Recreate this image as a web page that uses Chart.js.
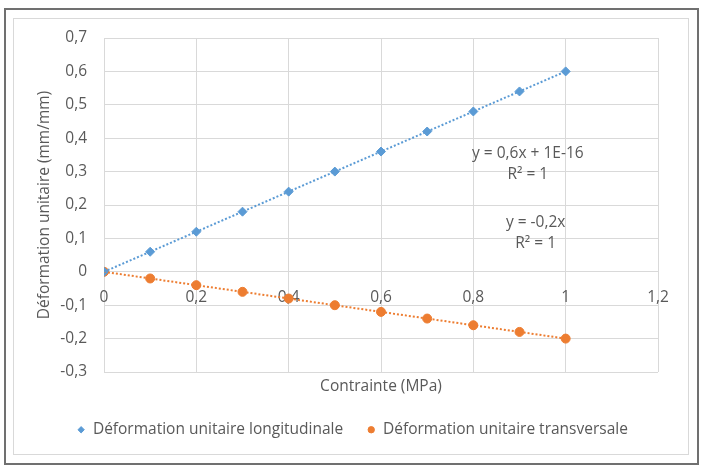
<!DOCTYPE html>
<html>
<head>
<meta charset="utf-8">
<script src="https://cdn.jsdelivr.net/npm/chart.js@4.4.0/dist/chart.umd.min.js"></script>
<style>
  body { margin: 0; background: #fff; }
  #wrap { position: relative; width: 705px; height: 468px; }
  canvas { position: absolute; left: 0; top: 0; }
  .frame { position: absolute; box-sizing: border-box; pointer-events: none; }
  #outer { left: 4px; top: 8px; width: 695px; height: 457px; border: 2px solid #707070; }
  #inner { left: 13px; top: 18px; width: 676px; height: 437px; border: 1px solid #d9d9d9; }
</style>
</head>
<body>
<div id="wrap">
  <canvas id="chart" width="705" height="468"></canvas>
  <div class="frame" id="outer"></div>
  <div class="frame" id="inner"></div>
</div>
<script>
// Data
const stress = [0, 0.1, 0.2, 0.3, 0.4, 0.5, 0.6, 0.7, 0.8, 0.9, 1];
const longStrain = [0, 0.06, 0.12, 0.18, 0.24, 0.30, 0.36, 0.42, 0.48, 0.54, 0.60];
const transStrain = [0, -0.02, -0.04, -0.06, -0.08, -0.10, -0.12, -0.14, -0.16, -0.18, -0.20];

// Trendline end points
const trendX = [0, 1];
const longTrend = [0, 0.6];
const transTrend = [0, -0.2];

// Tick values and labels
const xTicks = [0, 0.2, 0.4, 0.6, 0.8, 1, 1.2];
const xLabels = ['0', '0,2', '0,4', '0,6', '0,8', '1', '1,2'];
const yTicks = [-0.3, -0.2, -0.1, 0, 0.1, 0.2, 0.3, 0.4, 0.5, 0.6, 0.7];
const yLabels = ['-0,3', '-0,2', '-0,1', '0', '0,1', '0,2', '0,3', '0,4', '0,5', '0,6', '0,7'];

const seriesNames = ['Déformation unitaire longitudinale', 'Déformation unitaire transversale'];
const eqLong = ['y = 0,6x + 1E-16', 'R² = 1'];
const eqTrans = ['y = -0,2x', 'R² = 1'];

const blue = '#5b9bd5';
const orange = '#ed7d31';
const textGray = '#595959';
const gridGray = '#d9d9d9';
const fontSize = 15.5;

Chart.defaults.font.family = '"Open Sans", sans-serif';
Chart.defaults.font.size = fontSize;
Chart.defaults.color = textGray;

const toPoints = (xs, ys) => xs.map((x, i) => ({ x: x, y: ys[i] }));
const setTicks = values => scale => { scale.ticks = values.map(v => ({ value: v })); };

// equation labels placed in data coordinates
const equations = [
    { lines: eqLong, at: [0.918, 0.355] },
    { lines: eqTrans, at: [0.935, 0.148] }
];

const equationPlugin = {
    id: 'equations',
    afterDatasetsDraw(chart) {
        const { ctx, scales } = chart;
        ctx.save();
        ctx.font = fontSize + 'px "Open Sans"';
        ctx.fillStyle = textGray;
        ctx.textAlign = 'center';
        ctx.textBaseline = 'middle';
        equations.forEach(eq => {
            const px = scales.x.getPixelForValue(eq.at[0]);
            const py = scales.y.getPixelForValue(eq.at[1]);
            eq.lines.forEach((line, i) => ctx.fillText(line, px, py + i * 21));
        });
        ctx.restore();
    }
};

new Chart(document.getElementById('chart'), {
    type: 'scatter',
    data: {
        datasets: [{
            label: seriesNames[0],
            data: toPoints(stress, longStrain),
            backgroundColor: blue,
            borderColor: blue,
            borderWidth: 1,
            pointStyle: 'rectRot',
            pointRadius: 4.5,
            order: 1
        }, {
            label: seriesNames[1],
            data: toPoints(stress, transStrain),
            backgroundColor: orange,
            borderColor: orange,
            borderWidth: 1,
            pointStyle: 'circle',
            pointRadius: 4.5,
            order: 1
        }, {
            label: 'trend long',
            trend: true,
            data: toPoints(trendX, longTrend),
            showLine: true,
            borderColor: blue,
            borderWidth: 2,
            borderDash: [2, 2],
            pointRadius: 0,
            order: 0
        }, {
            label: 'trend trans',
            trend: true,
            data: toPoints(trendX, transTrend),
            showLine: true,
            borderColor: orange,
            borderWidth: 2,
            borderDash: [2, 2],
            pointRadius: 0,
            order: 0
        }]
    },
    options: {
        responsive: false,
        animation: false,
        layout: { padding: { top: 38, left: 30, right: 30, bottom: 20.5 } },
        plugins: {
            tooltip: { enabled: false },
            legend: {
                position: 'bottom',
                labels: {
                    usePointStyle: true,
                    boxWidth: 8,
                    boxHeight: 4.5,
                    padding: 24,
                    color: textGray,
                    filter: (item, data) => !data.datasets[item.datasetIndex].trend
                }
            }
        },
        scales: {
            x: {
                type: 'linear',
                position: 'bottom',
                min: 0,
                max: 1.2,
                afterBuildTicks: setTicks(xTicks),
                afterFit: s => { s.height = 26; },
                ticks: { display: false },
                grid: { color: gridGray, drawTicks: false },
                border: { display: false },
                title: {
                    display: true,
                    text: 'Contrainte (MPa)',
                    color: textGray,
                    padding: { top: 0, bottom: 2 }
                }
            },
            xt: {
                type: 'linear',
                axis: 'x',
                position: { y: 0 },
                min: 0,
                max: 1.2,
                afterBuildTicks: setTicks(xTicks),
                ticks: {
                    padding: 16,
                    maxRotation: 0,
                    callback: (v, i) => xLabels[i]
                },
                grid: { display: false, drawTicks: false },
                border: { display: false }
            },
            y: {
                type: 'linear',
                position: 'left',
                min: -0.3,
                max: 0.7,
                afterBuildTicks: setTicks(yTicks),
                afterFit: s => { s.width = 74; },
                ticks: {
                    padding: 17,
                    callback: (v, i) => yLabels[i]
                },
                grid: { color: gridGray, drawTicks: false },
                border: { display: false },
                title: {
                    display: true,
                    text: 'Déformation unitaire (mm/mm)',
                    color: textGray,
                    padding: { top: 5, bottom: 0 }
                }
            },
            y2: {
                type: 'linear',
                position: 'right',
                afterFit: s => { s.width = 17; },
                ticks: { display: false },
                grid: { display: false, drawTicks: false },
                border: { display: false }
            }
        }
    },
    plugins: [equationPlugin]
});
</script>
</body>
</html>
